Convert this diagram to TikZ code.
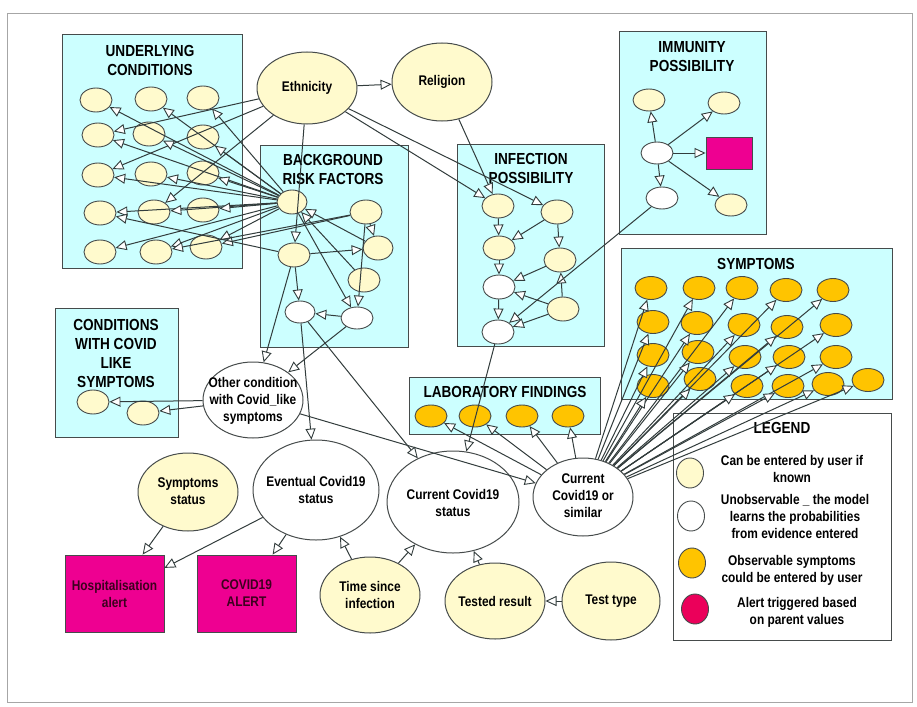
\documentclass[tikz,border=0pt]{standalone}
\usepackage{fontspec}
\setmainfont{Liberation Sans}[FakeStretch=0.85]
\usetikzlibrary{shapes.geometric,arrows.meta}
\definecolor{cyanc}{RGB}{204,255,255}
\definecolor{yelc}{RGB}{255,250,205}
\definecolor{orc}{RGB}{255,196,0}
\definecolor{magc}{RGB}{238,0,145}
\definecolor{legred}{RGB}{235,0,90}
\definecolor{bordc}{RGB}{70,75,75}
\definecolor{linec}{RGB}{50,60,60}
\definecolor{altc}{RGB}{60,0,30}
\tikzset{
 grp/.style={draw=bordc, fill=cyanc, line width=1pt},
 sm/.style={ellipse, draw=bordc, line width=0.9pt, minimum width=32pt, minimum height=24pt, inner sep=0pt},
 yel/.style={sm, fill=yelc},
 whi/.style={sm, fill=white},
 sym/.style={sm, fill=orc, minimum height=23pt},
 bigell/.style={ellipse, draw=bordc, line width=1pt, inner sep=0pt},
 txt/.style={align=center, inner sep=0pt, font=\bfseries\fontsize{14}{17}\selectfont},
 ttl/.style={align=center, inner sep=0pt, font=\bfseries\fontsize{16}{19}\selectfont},
 alrt/.style={rectangle, draw=bordc, fill=magc, line width=0.9pt, inner sep=0pt},
 arr/.style={draw=linec, line width=1pt, -{Triangle[length=11pt,width=10pt,fill=white,line width=0.9pt]}},
}
\begin{document}
\begin{tikzpicture}[x=1pt,y=-1pt]
\useasboundingbox (0,0) rectangle (917,706);
\draw[draw=gray!70, line width=0.8pt] (7,13) rectangle (912,702);
% group boxes
\draw[grp] (62,35) rectangle (242,268);
\draw[grp] (260,145) rectangle (408,347);
\draw[grp] (457,144) rectangle (604,346);
\draw[grp] (619,32) rectangle (766,234);
\draw[grp] (621,248) rectangle (892,399);
\draw[grp] (409,377) rectangle (600,434);
\draw[grp] (55,308) rectangle (178,437);
\draw[draw=bordc, line width=1pt, fill=white] (673,413) rectangle (891,640);
% titles
\node[ttl] (tUC) at (150,60) {UNDERLYING\\CONDITIONS};
\node[ttl] (tBR) at (333,169) {BACKGROUND\\RISK FACTORS};
\node[ttl] (tIP) at (531,168.5) {INFECTION\\POSSIBILITY};
\node[ttl] (tIM) at (692,57) {IMMUNITY\\POSSIBILITY};
\node[ttl] (tSY) at (756,264) {SYMPTOMS};
\node[ttl] (tLF) at (505,392) {LABORATORY FINDINGS};
\node[ttl] (tCW) at (116,353) {CONDITIONS\\WITH COVID\\LIKE\\SYMPTOMS};
\node[ttl] (tLG) at (782,428) {LEGEND};
% underlying conditions
\node[yel] (u11) at (96,100) {};
\node[yel] (u12) at (151,99) {};
\node[yel] (u13) at (203,98) {};
\node[yel] (u21) at (98,135) {};
\node[yel] (u22) at (149,134) {};
\node[yel] (u23) at (203,137) {};
\node[yel] (u31) at (98,175) {};
\node[yel] (u32) at (151,174) {};
\node[yel] (u33) at (203,173) {};
\node[yel] (u41) at (100,213) {};
\node[yel] (u42) at (154,212) {};
\node[yel] (u43) at (203,210) {};
\node[yel] (u51) at (100,252) {};
\node[yel] (u52) at (156,252) {};
\node[yel] (u53) at (206,247) {};
% background risk factors
\node[yel, minimum width=30pt] (br1) at (292,202) {};
\node[yel] (br2) at (366,212) {};
\node[yel] (br3) at (294,255) {};
\node[yel, minimum width=30pt] (br4) at (378,248) {};
\node[yel] (br5) at (364,280) {};
\node[whi, minimum width=30pt, minimum height=22pt] (w1) at (300,312) {};
\node[whi, minimum width=32pt, minimum height=22pt] (w2) at (357,318) {};
% infection possibility
\node[yel] (ip1) at (498,206) {};
\node[yel] (ip2) at (557,212) {};
\node[yel] (ip3) at (499,248) {};
\node[yel] (ip4) at (560,260) {};
\node[whi] (ipw1) at (499,287) {};
\node[yel] (ip5) at (563,309) {};
\node[whi] (ipw2) at (498,332) {};
% immunity
\node[yel, minimum height=22pt] (im1) at (649,100) {};
\node[yel, minimum height=22pt] (im2) at (724,103) {};
\node[whi, minimum height=22pt] (imw1) at (657,153) {};
\node[alrt, minimum width=46pt, minimum height=32pt] (imbox) at (729,153) {};
\node[whi, minimum height=22pt] (imw2) at (662,198) {};
\node[yel, minimum height=22pt] (im3) at (731,205) {};
% symptoms
\node[sym] (s11) at (651,288) {};
\node[sym] (s12) at (699,288) {};
\node[sym] (s13) at (742,288) {};
\node[sym] (s14) at (786,290) {};
\node[sym] (s15) at (833,290) {};
\node[sym] (s21) at (653,322) {};
\node[sym] (s22) at (697,323) {};
\node[sym] (s23) at (744,325) {};
\node[sym] (s24) at (787,327) {};
\node[sym] (s25) at (836,325) {};
\node[sym] (s31) at (653,355) {};
\node[sym] (s32) at (698,352) {};
\node[sym] (s33) at (745,357) {};
\node[sym] (s34) at (789,357) {};
\node[sym] (s35) at (836,357) {};
\node[sym] (s41) at (653,386) {};
\node[sym] (s42) at (700,379) {};
\node[sym] (s43) at (747,386) {};
\node[sym] (s44) at (788,386) {};
\node[sym] (s45) at (828,384) {};
\node[sym] (s46) at (868,380) {};
% lab findings
\node[sym, minimum height=22pt] (l1) at (431,416) {};
\node[sym, minimum height=22pt] (l2) at (475,416) {};
\node[sym, minimum height=22pt] (l3) at (522,416) {};
\node[sym, minimum height=22pt] (l4) at (568,416) {};
% conditions with covid like symptoms
\node[yel] (c1) at (93,402) {};
\node[yel] (c2) at (143,413) {};
% big nodes
\node[bigell, fill=yelc, minimum width=100pt, minimum height=72pt] (eth) at (307,88) {};
\node[txt] (ethT) at (eth) {Ethnicity};
\node[bigell, fill=yelc, minimum width=100pt, minimum height=78pt] (rel) at (442,82) {};
\node[txt] (relT) at (rel) {Religion};
\node[bigell, fill=white, minimum width=100pt, minimum height=76pt] (oc) at (253,400) {};
\node[txt] (ocT) at (253,401) {Other condition\\with Covid\_like\\symptoms};
\node[bigell, fill=white, minimum width=126pt, minimum height=100pt] (evs) at (316,490) {};
\node[txt] (evsT) at (316,490) {Eventual Covid19\\status};
\node[bigell, fill=yelc, minimum width=100pt, minimum height=78pt] (ss) at (188,492) {};
\node[txt] (ssT) at (188,491) {Symptoms\\status};
\node[bigell, fill=yelc, minimum width=100pt, minimum height=76pt] (tsi) at (370,595) {};
\node[txt] (tsiT) at (370,595) {Time since\\infection};
\node[bigell, fill=white, minimum width=132pt, minimum height=102pt] (ccs) at (453,502) {};
\node[txt] (ccsT) at (453,503) {Current Covid19\\status};
\node[bigell, fill=white, minimum width=100pt, minimum height=78pt] (cos) at (583,497) {};
\node[txt] (cosT) at (583,496) {Current\\Covid19 or\\similar};
\node[bigell, fill=yelc, minimum width=100pt, minimum height=76pt] (tr) at (495,601) {};
\node[txt] (trT) at (tr) {Tested result};
\node[bigell, fill=yelc, minimum width=98pt, minimum height=78pt] (tt) at (611,601) {};
\node[txt] (ttT) at (tt) {Test type};
\node[alrt, minimum width=99pt, minimum height=77pt] (hosp) at (114.5,593.5) {};
\node[txt, text=altc] (hospT) at (hosp) {Hospitalisation\\alert};
\node[alrt, minimum width=99pt, minimum height=77pt] (alert) at (246.5,593.5) {};
\node[txt, text=altc] (alertT) at (alert) {COVID19\\ALERT};
% legend
\node[sm, fill=yelc, minimum width=27pt, minimum height=30pt] (lg1) at (690,473) {};
\node[sm, fill=white, minimum width=27pt, minimum height=30pt] (lg2) at (691,516) {};
\node[sm, fill=orc, minimum width=27pt, minimum height=30pt] (lg3) at (692,563) {};
\node[sm, fill=legred, minimum width=27pt, minimum height=30pt] (lg4) at (695,609) {};
\node[txt] (lgT1) at (792,469) {Can be entered by user if\\known};
\node[txt] (lgT2) at (795,516) {Unobservable \_ the model\\learns the probabilities\\from evidence entered};
\node[txt] (lgT3) at (792,570) {Observable symptoms\\could be entered by user};
\node[txt] (lgT4) at (797,612) {Alert triggered based\\on parent values};
% ---- edges ----
\draw[arr] (eth) -- (rel);
\foreach \t in {u21,u31,u42,br3,ip1,ip2} \draw[arr] (eth) -- (\t);
\foreach \t in {u11,u12,u13,u21,u22,u23,u31,u32,u33,u41,u42,u43,u51,u52,u53} \draw[arr] (br1) -- (\t);
\draw[arr] (br2) -- (u53);
\draw[arr] (br2) -- (u52);
\draw[arr] (br3) -- (u41);
\draw[arr] (br2) -- (br4);
\draw[arr] (br3) -- (br4);
\draw[arr] (br3) -- (w1);
\draw[arr] (w2) -- (w1);
\draw[arr] (br2) -- (w2);
\draw[arr] (br1) -- (w2);
\draw[arr] (br4) -- (br1);
\draw[arr] (br5) -- (br1);
\draw[arr] (rel) -- (ip1);
\draw[arr] (ip1) -- (ip3);
\draw[arr] (ip2) -- (ip3);
\draw[arr] (ip2) -- (ip4);
\draw[arr] (ip3) -- (ipw1);
\draw[arr] (ip4) -- (ipw1);
\draw[arr] (ip5) -- (ip4);
\draw[arr] (ip5) -- (ipw1);
\draw[arr] (ipw1) -- (ipw2);
\draw[arr] (ip5) -- (ipw2);
\draw[arr] (imw2) -- (ipw2);
\foreach \t in {im1,im2,imbox,imw2,im3} \draw[arr] (imw1) -- (\t);
\draw[arr] (br3) -- (oc);
\draw[arr] (w2) -- (oc);
\draw[arr] (w1) -- (evs);
\draw[arr] (w1) -- (ccs);
\draw[arr] (oc) -- (c1);
\draw[arr] (oc) -- (c2);
\draw[arr] (oc) -- (cos);
\draw[arr] (ipw2) -- (ccs);
\foreach \t in {l1,l2,l3,l4} \draw[arr] (cos) -- (\t);
\foreach \t in {s11,s12,s13,s14,s15,s21,s22,s23,s24,s25,s31,s32,s33,s34,s35,s41,s42,s43,s44,s45,s46} \draw[arr] (cos) -- (\t);
\draw[arr] (evs) -- (hosp);
\draw[arr] (evs) -- (alert);
\draw[arr] (ss) -- (hosp);
\draw[arr] (tsi) -- (evs);
\draw[arr] (tsi) -- (ccs);
\draw[arr] (tr) -- (ccs);
\draw[arr] (tt) -- (tr);
\end{tikzpicture}
\end{document}
